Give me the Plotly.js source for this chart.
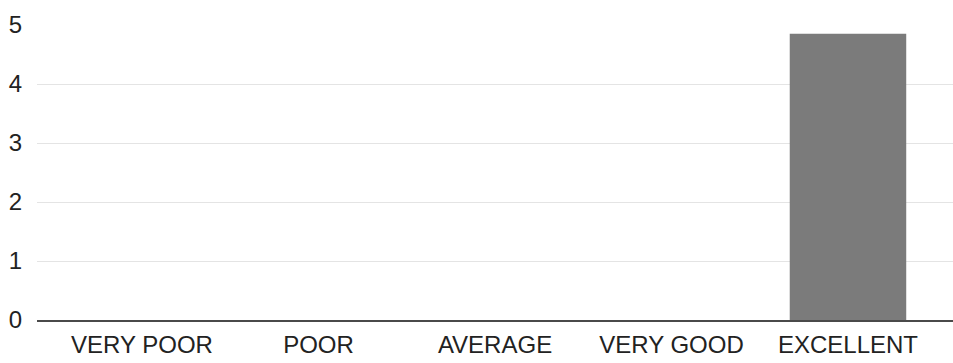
<!DOCTYPE html>
<html>
<head>
<meta charset="utf-8">
<script src="https://cdn.plot.ly/plotly-3.0.1.min.js"></script>
<style>html,body{margin:0;padding:0;background:#fff;}#chart{width:953px;height:363px;}</style>
</head>
<body>
<div id="chart"></div>
<script>
const categories = ["VERY POOR", "POOR", "AVERAGE", "VERY GOOD", "EXCELLENT"];
const values = [0, 0, 0, 0, 4.85];
const yTicks = [0, 1, 2, 3, 4, 5];

Plotly.newPlot("chart", [{
  type: "bar",
  x: categories,
  y: values,
  marker: {color: "#7b7b7b", line: {width: 0}},
  hoverinfo: "skip"
}], {
  width: 953, height: 363,
  margin: {l: 37, r: 0, t: 25, b: 43},
  paper_bgcolor: "#fff", plot_bgcolor: "#fff",
  bargap: 0.34,
  showlegend: false,
  font: {family: "Liberation Sans, Arial, sans-serif", color: "#222", size: 24},
  xaxis: {
    type: "category",
    range: [-0.595, 4.595],
    showgrid: false,
    showline: true, linecolor: "#4a4a4a", linewidth: 2,
    ticks: "", ticklabelstandoff: 2,
    tickfont: {size: 24, color: "#222"}
  },
  yaxis: {
    range: [0, 5],
    tickvals: yTicks,
    showgrid: true, gridcolor: "#e4e4e4", gridwidth: 1,
    zeroline: false,
    showline: false, ticks: "",
    ticklabelstandoff: 14,
    tickfont: {size: 24, color: "#222"}
  }
}, {displayModeBar: false, staticPlot: true});
</script>
</body>
</html>
